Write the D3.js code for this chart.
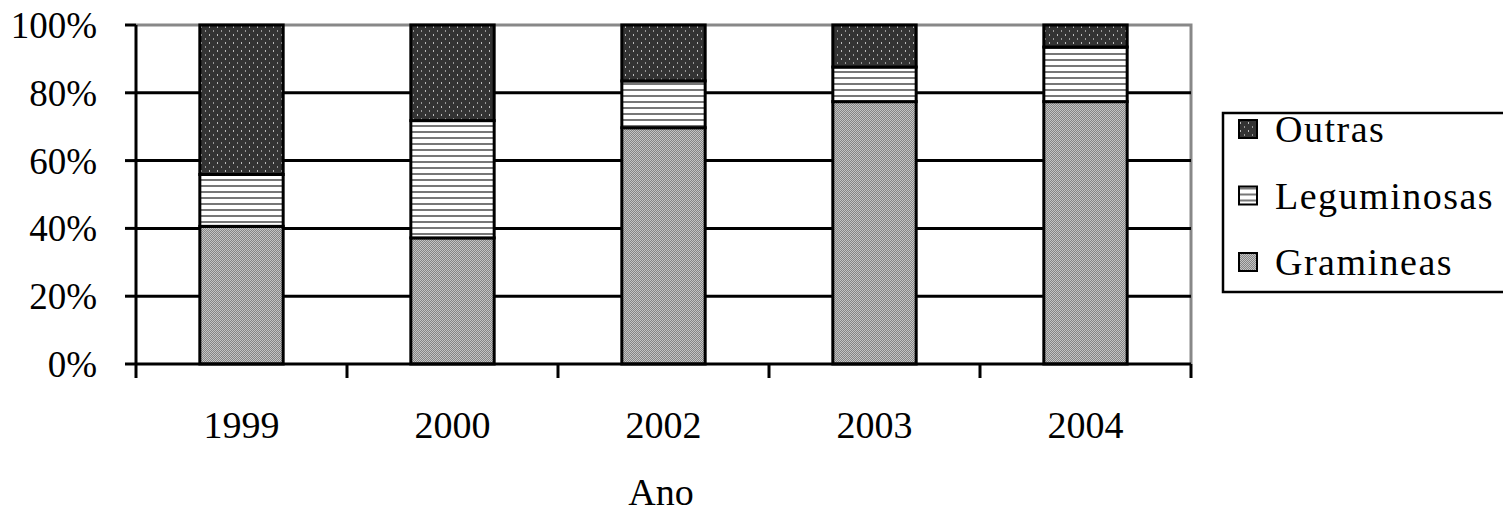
<!DOCTYPE html>
<html>
<head>
<meta charset="utf-8">
<script src="https://cdn.jsdelivr.net/npm/d3@7"></script>
<style>
body { margin: 0; background: #fff; }
svg text { font-family: "Liberation Serif", "Times New Roman", serif; fill: #000; }
</style>
</head>
<body>
<svg width="1503" height="516"></svg>
<script>
var years = ["1999", "2000", "2002", "2003", "2004"];
var gramineas = [40.6, 37.2, 69.7, 77.4, 77.4];
var leguminosas = [15.3, 34.6, 13.8, 10.2, 16.1];
var outras = [44.1, 28.2, 16.5, 12.4, 6.5];
var keys = ["Gramineas", "Leguminosas", "Outras"];
var yTicks = [0, 20, 40, 60, 80, 100];

function main(){
var svg = d3.select("svg"),
    margin = {top: 25, right: 312, bottom: 152, left: 136},
    width = 1191 - margin.left,
    height = 364 - margin.top,
    g = svg.append("g").attr("transform", "translate(" + margin.left + "," + margin.top + ")");

// fill patterns
var defs = svg.append("defs");
var pO = defs.append("pattern").attr("id", "pat-outras")
    .attr("patternUnits", "userSpaceOnUse").attr("width", 8).attr("height", 8);
pO.append("rect").attr("width", 8).attr("height", 8).attr("fill", "#333");
pO.append("rect").attr("x", 1).attr("y", 1).attr("width", 1).attr("height", 2).attr("fill", "#bbb");
pO.append("rect").attr("x", 5).attr("y", 5).attr("width", 1).attr("height", 2).attr("fill", "#999");

var pL = defs.append("pattern").attr("id", "pat-leg")
    .attr("patternUnits", "userSpaceOnUse").attr("width", 8).attr("height", 6);
pL.append("rect").attr("width", 8).attr("height", 6).attr("fill", "#fff");
pL.append("rect").attr("y", 4).attr("width", 8).attr("height", 2).attr("fill", "#777");

var pG = defs.append("pattern").attr("id", "pat-gram")
    .attr("patternUnits", "userSpaceOnUse").attr("width", 2).attr("height", 2);
pG.append("rect").attr("width", 2).attr("height", 2).attr("fill", "#c4c4c4");
pG.append("rect").attr("width", 1).attr("height", 1).attr("fill", "#858585");
pG.append("rect").attr("x", 1).attr("y", 1).attr("width", 1).attr("height", 1).attr("fill", "#858585");

var fills = {Gramineas: "url(#pat-gram)", Leguminosas: "url(#pat-leg)", Outras: "url(#pat-outras)"};

var data = years.map(function(d, i) {
  return {ano: d, Gramineas: gramineas[i], Leguminosas: leguminosas[i], Outras: outras[i]};
});

var x = d3.scaleBand().domain(years).range([0, width]).padding(0);
var y = d3.scaleLinear().domain([0, 100]).range([height, 0]);
var barW = x.bandwidth() * 0.395;

// plot border (gray top and right)
g.append("path")
    .attr("d", "M0,0H" + width + "V" + height)
    .attr("fill", "none").attr("stroke", "#888").attr("stroke-width", 3);

// gridlines
g.append("g").selectAll("line")
  .data(yTicks.slice(1, -1))
  .enter().append("line")
    .attr("x1", 0).attr("x2", width)
    .attr("y1", function(d) { return y(d); })
    .attr("y2", function(d) { return y(d); })
    .attr("stroke", "#000").attr("stroke-width", 3);

// bars
g.append("g")
  .selectAll("g")
  .data(d3.stack().keys(keys)(data))
  .enter().append("g")
    .attr("fill", function(d) { return fills[d.key]; })
  .selectAll("rect")
  .data(function(d) { return d; })
  .enter().append("rect")
    .attr("x", function(d) { return x(d.data.ano) + (x.bandwidth() - barW) / 2; })
    .attr("y", function(d) { return y(d[1]); })
    .attr("height", function(d) { return y(d[0]) - y(d[1]); })
    .attr("width", barW)
    .attr("stroke", "#000").attr("stroke-width", 3);

// x axis
var xa = g.append("g").attr("transform", "translate(0," + height + ")");
xa.append("line").attr("x1", 0).attr("x2", width).attr("stroke", "#000").attr("stroke-width", 3);
xa.selectAll(".tk")
  .data(years.concat(["end"]))
  .enter().append("line")
    .attr("x1", function(d, i) { return i * x.step(); })
    .attr("x2", function(d, i) { return i * x.step(); })
    .attr("y1", 0).attr("y2", 14)
    .attr("stroke", "#000").attr("stroke-width", 3);
xa.selectAll("text")
  .data(years)
  .enter().append("text")
    .attr("x", function(d) { return x(d) + x.bandwidth() / 2; })
    .attr("y", 74)
    .attr("text-anchor", "middle")
    .attr("font-size", 38)
    .text(function(d) { return d; });

// y axis
var ya = g.append("g");
ya.append("line").attr("y1", 0).attr("y2", height).attr("stroke", "#000").attr("stroke-width", 3);
ya.selectAll(".tk")
  .data(yTicks)
  .enter().append("line")
    .attr("x1", -11).attr("x2", 0)
    .attr("y1", function(d) { return y(d); })
    .attr("y2", function(d) { return y(d); })
    .attr("stroke", "#000").attr("stroke-width", 3);
ya.selectAll("text")
  .data(yTicks)
  .enter().append("text")
    .attr("x", -39)
    .attr("y", function(d) { return y(d) + 13; })
    .attr("text-anchor", "end")
    .attr("font-size", 37)
    .text(function(d) { return d + "%"; });

// axis title
svg.append("text")
    .attr("x", 661).attr("y", 505)
    .attr("text-anchor", "middle")
    .attr("font-size", 38)
    .text("Ano");

// legend
var lg = svg.append("g");
lg.append("rect")
    .attr("x", 1223).attr("y", 113).attr("width", 290).attr("height", 179)
    .attr("fill", "#fff").attr("stroke", "#000").attr("stroke-width", 2.5);
var item = lg.selectAll(".item")
  .data(keys.slice().reverse())
  .enter().append("g")
    .attr("transform", function(d, i) { return "translate(1239," + (129 + i * 66.5) + ")"; });
item.append("rect")
    .attr("x", 0).attr("y", -9).attr("width", 18).attr("height", 18)
    .attr("fill", function(d) { return fills[d]; })
    .attr("stroke", "#000").attr("stroke-width", 2);
item.append("text")
    .attr("x", 36).attr("y", 13)
    .attr("font-size", 38)
    .attr("letter-spacing", 1.5)
    .text(function(d) { return d; });
}
main()
</script>
</body>
</html>
